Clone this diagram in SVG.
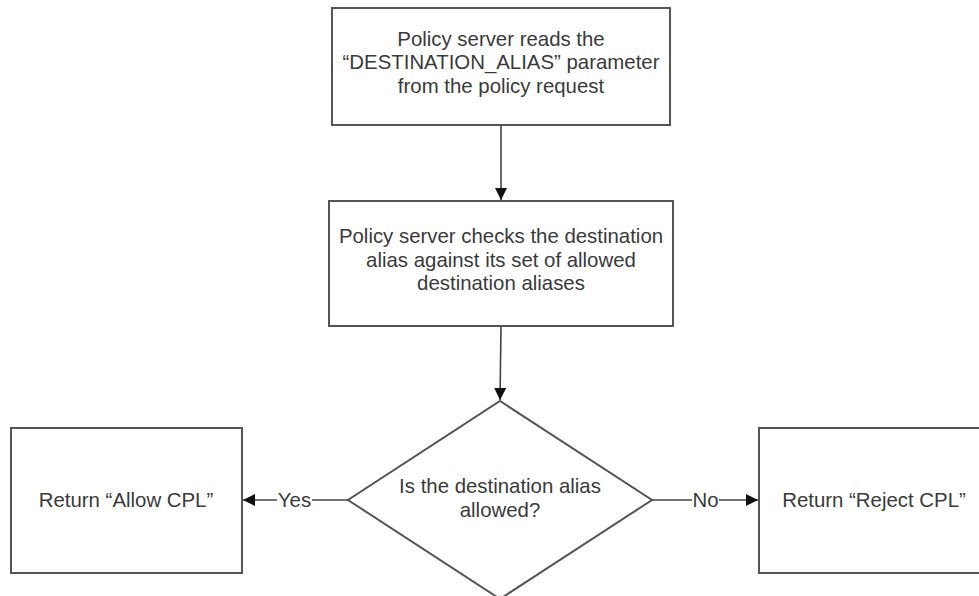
<svg xmlns="http://www.w3.org/2000/svg" width="979" height="596" viewBox="0 0 979 596">
<style>
.box{fill:#fff;stroke:#555;stroke-width:2}
.t{font-family:"Liberation Sans",Arial,sans-serif;font-size:20.4px;fill:#3a3a3a;text-anchor:middle}
.c{stroke:#444;stroke-width:1.6;fill:none}
</style>
<defs>
<marker id="ah" viewBox="0 0 10 10" refX="10" refY="5" markerWidth="12" markerHeight="12" markerUnits="userSpaceOnUse" orient="auto">
<path d="M0,0 L10,5 L0,10 z" fill="#111"/>
</marker>
</defs>
<rect width="979" height="596" fill="#fff"/>
<g id="n1">
<rect class="box" x="332" y="8" width="338" height="117"/>
<text class="t" x="501" y="45.5">Policy server reads the</text>
<text class="t" x="501" y="69">“DESTINATION_ALIAS” parameter</text>
<text class="t" x="501" y="92.5">from the policy request</text>
</g>
<g id="n2">
<rect class="box" x="329" y="201" width="344" height="125"/>
<text class="t" x="501" y="243">Policy server checks the destination</text>
<text class="t" x="501" y="266.5">alias against its set of allowed</text>
<text class="t" x="501" y="290">destination aliases</text>
</g>
<g id="n3">
<polygon class="box" points="500,401 652,500 500,599 348,500"/>
<text class="t" x="500" y="493">Is the destination alias</text>
<text class="t" x="500" y="516.5">allowed?</text>
</g>
<g id="n4">
<rect class="box" x="11" y="428" width="231" height="145"/>
<text class="t" x="126" y="507">Return “Allow CPL”</text>
</g>
<g id="n5">
<rect class="box" x="759" y="428" width="231" height="145"/>
<text class="t" x="874" y="507">Return “Reject CPL”</text>
</g>
<g id="connectors">
<line class="c" x1="501" y1="125" x2="501" y2="200" marker-end="url(#ah)"/>
<line class="c" x1="501" y1="326" x2="500" y2="400" marker-end="url(#ah)"/>
<line class="c" x1="348" y1="500" x2="243" y2="500" marker-end="url(#ah)"/>
<line class="c" x1="652" y1="500" x2="758" y2="500" marker-end="url(#ah)"/>
<rect x="277" y="488" width="35" height="24" fill="#fff"/>
<text class="t" x="294.5" y="507">Yes</text>
<rect x="692" y="488" width="27" height="24" fill="#fff"/>
<text class="t" x="705.5" y="507">No</text>
</g>
</svg>
